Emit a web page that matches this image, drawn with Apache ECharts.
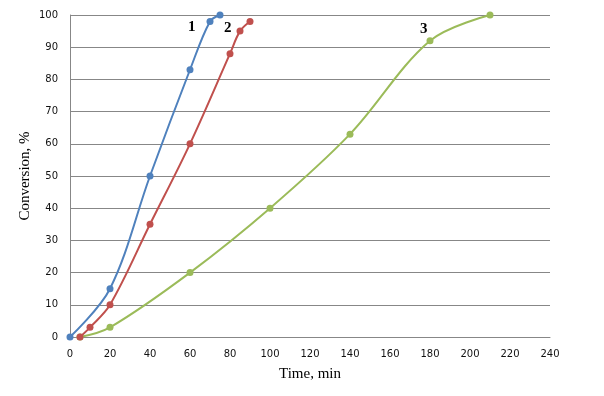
<!DOCTYPE html>
<html><head><meta charset="utf-8">
<script src="https://cdn.jsdelivr.net/npm/echarts@6/dist/echarts.min.js"></script>
<style>html,body{margin:0;padding:0;background:#fff}#c{width:604px;height:396px}</style>
</head><body><div id="c"></div>
<script>
const xTicks = [0,20,40,60,80,100,120,140,160,180,200,220,240];
const yTicks = [0,10,20,30,40,50,60,70,80,90,100];
const series1 = [[0,0],[20,15],[40,50],[60,83],[70,98],[75,100]];
const series2 = [[5,0],[10,3],[20,10],[40,35],[60,60],[80,88],[85,95],[90,98]];
const series3 = [[5,0],[20,3],[60,20],[100,40],[140,63],[180,92],[210,100]];
const names = ['1','2','3'];
const colors = ['#4F81BD','#C0504D','#9BBB59'];
const labelIdx = [4,6,5];
const labelOffsets = [[-6,6],[0,-3],[6,-12]];

function mk(data, i){
  return {
    type:'line', name:names[i], smooth:0.35, symbol:'circle', symbolSize:7,
    lineStyle:{width:2,color:colors[i]}, itemStyle:{color:colors[i]},
    z: 3-i,
    data: data.map((d,j)=> j===labelIdx[i] ? {value:d, label:{show:true, formatter:names[i], position:'left', offset:labelOffsets[i], fontFamily:'Liberation Serif', fontWeight:'bold', fontSize:15, color:'#000'}} : d)
  };
}
const chart = echarts.init(document.getElementById('c'));
chart.setOption({
  animation:false,
  grid:{left:70,right:54,top:15,bottom:59},
  xAxis:{type:'value',min:0,max:240,interval:20,
    name:'Time, min',nameLocation:'middle',nameGap:30,nameMoveOverlap:false,
    nameTextStyle:{fontFamily:'Liberation Serif',fontSize:15,color:'#000'},
    axisLine:{show:true,lineStyle:{color:'#878787',width:1}},axisTick:{show:false},
    splitLine:{show:false},
    axisLabel:{fontFamily:'DejaVu Sans',fontSize:10,color:'#111',margin:12}},
  yAxis:{type:'value',min:0,max:100,interval:10,
    name:'Conversion, %',nameLocation:'middle',nameGap:37,nameMoveOverlap:false,
    nameTextStyle:{fontFamily:'Liberation Serif',fontSize:15,color:'#000'},
    axisLine:{show:true,lineStyle:{color:'#878787',width:1}},axisTick:{show:false},
    splitLine:{show:true,lineStyle:{color:'#878787',width:1}},
    axisLabel:{fontFamily:'DejaVu Sans',fontSize:10,color:'#111',margin:12}},
  series:[mk(series1,0),mk(series2,1),mk(series3,2)]
});
</script></body></html>
